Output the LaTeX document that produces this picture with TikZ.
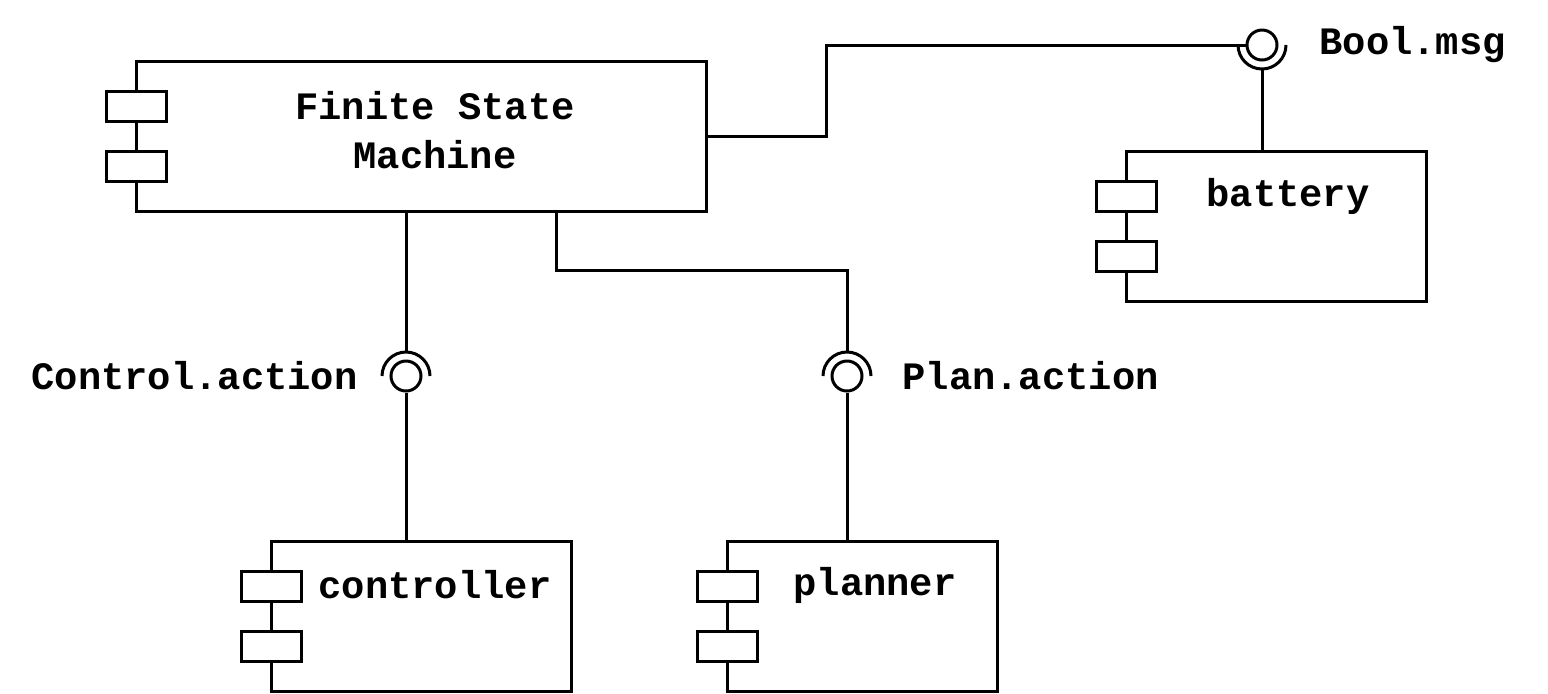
\documentclass[tikz,border=0pt]{standalone}
\usepackage{fontspec}
\setmonofont{Liberation Mono}
\begin{document}
\begin{tikzpicture}[x=0.5pt,y=-0.5pt,line width=1.5pt,
  comp/.style={draw,rectangle,inner sep=0pt,minimum height=75pt,fill=white},
  port/.style={draw,rectangle,inner sep=0pt,minimum width=30pt,minimum height=15pt,fill=white},
  lbl/.style={inner sep=0pt,font=\ttfamily\bfseries\fontsize{19.4}{24.5}\selectfont},
  ball/.style={draw,circle,inner sep=0pt,minimum size=15pt},
  socket/.style={line width=1.5pt}]
\useasboundingbox (0,0) rectangle (1548,693);
% components
\node[comp,minimum width=285pt] (fsm) at (421,136) {};
\node[port] (fsmp1) at (136,106) {};
\node[port] (fsmp2) at (136,166) {};
\node[lbl,align=center] (fsmt) at (435,130) {Finite State\\Machine};

\node[comp,minimum width=150pt] (bat) at (1276,226) {};
\node[port] (batp1) at (1126,196) {};
\node[port] (batp2) at (1126,256) {};
\node[lbl] (batt) at (1288,196) {battery};

\node[comp,minimum width=150pt] (ctl) at (421,616) {};
\node[port] (ctlp1) at (271,586) {};
\node[port] (ctlp2) at (271,646) {};
\node[lbl] (ctlt) at (435,585) {controller};

\node[comp,minimum width=135pt] (pln) at (862,616) {};
\node[port] (plnp1) at (727,586) {};
\node[port] (plnp2) at (727,646) {};
\node[lbl] (plnt) at (875,585) {planner};

% interfaces
\node[ball] (bb) at (1262,45) {};
\node[ball] (cb) at (406,376) {};
\node[ball] (pb) at (847,376) {};
\coordinate (bs) at (1262,69);
\coordinate (cs) at (406,352);
\coordinate (ps) at (847,352);
\draw[socket] (1238,45) arc[start angle=180,end angle=360,radius=12pt];
\draw[socket] (382,376) arc[start angle=180,end angle=0,radius=12pt];
\draw[socket] (823,376) arc[start angle=180,end angle=0,radius=12pt];

\node[lbl,anchor=west] (bl) at (1318,45) {Bool.msg};
\node[lbl,anchor=east] (cl) at (359,376) {Control.action};
\node[lbl,anchor=west] (pl) at (901,376) {Plan.action};

% connectors
\coordinate (k1) at (826,136);
\coordinate (k2) at (556,270);
\draw (fsm.east) -- (k1) |- (bb.west);
\draw (bs) -- (bat.north -| bs);
\draw (fsm.south -| cs) -- (cs);
\draw (cb.south) -- (ctl.north -| cb);
\draw (fsm.south -| k2) -- (k2) -| (ps);
\draw (pb.south) -- (pln.north -| pb);
\end{tikzpicture}
\end{document}
